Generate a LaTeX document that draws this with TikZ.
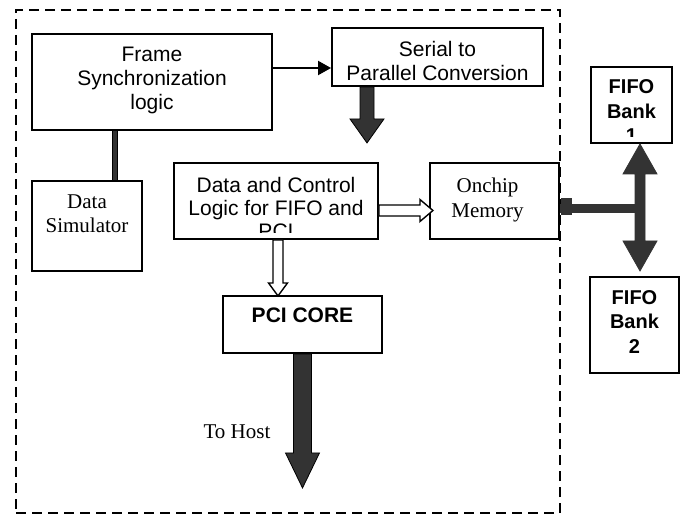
\documentclass[tikz,border=0pt]{standalone}
\usepackage{fontspec}
\setmainfont{Liberation Sans}
\newfontfamily\timesfont{Liberation Serif}
\usetikzlibrary{arrows.meta}

\definecolor{busgray}{HTML}{333333}

% Filled block arrow: style, start point, direction angle, shaft half-width,
% head half-width, total length, head length
\newcommand{\blockarrow}[7]{%
  \draw[#1, shift={(#2)}, rotate=#3]
    (0,-#4) -- ({#6-#7},-#4) -- ({#6-#7},-#5) -- (#6,0)
    -- ({#6-#7},#5) -- ({#6-#7},#4) -- (0,#4) -- cycle;}

\begin{document}
\begin{tikzpicture}[x=1pt,y=-1pt,
  box/.style={draw, line width=1.9pt, inner sep=0pt, fill=white},
  txt/.style={align=center, inner sep=0pt, font=\fontsize{21}{24}\selectfont},
  serif/.style={align=center, inner sep=0pt, font=\timesfont\fontsize{21}{23.5}\selectfont},
  boldtxt/.style={align=center, inner sep=0pt, font=\bfseries\fontsize{20}{24.5}\selectfont},
  fat/.style={fill=busgray, draw=black, line width=0.8pt, line join=miter},
  hollow/.style={fill=white, draw=black, line width=1.4pt, line join=miter},
]
\useasboundingbox (0,0) rectangle (680,516);

% board outline
\node[draw, line width=2.6pt, dash pattern=on 10pt off 6pt, minimum width=544pt,
      minimum height=503pt, inner sep=0pt] (board) at (288,261.5) {};

% blocks
\node[box, minimum width=240pt, minimum height=96pt] (frame)  at (152,82) {};
\node[box, minimum width=211pt, minimum height=58pt] (serial) at (437.5,57) {};
\node[box, minimum width=110pt, minimum height=90pt] (dsim)   at (87,226) {};
\node[box, minimum width=204pt, minimum height=76pt] (dcl)    at (276,201) {};
\node[box, minimum width=129pt, minimum height=76pt] (mem)    at (494.5,201) {};
\node[box, minimum width=159pt, minimum height=57pt] (pci)    at (302.5,324.5) {};
\node[box, minimum width=81pt,  minimum height=76pt] (fifoA)  at (631.5,105) {};
\node[box, minimum width=89pt,  minimum height=96pt] (fifoB)  at (634.5,325) {};

% block labels
\node[txt] (frameT) at ([yshift=2pt]frame.center) {Frame\\Synchronization\\logic};
\node[txt] (serialT) at ([yshift=-3.5pt]serial.center) {Serial to\\Parallel Conversion};
\node[serif] (dsimT) at ([yshift=12.5pt]dsim.center) {Data\\Simulator};
\begin{scope}
  \clip ([xshift=1pt,yshift=-1pt]dcl.north west) rectangle ([xshift=-1pt,yshift=7pt]dcl.south east);
  \node[txt, font=\fontsize{21}{23}\selectfont] (dclT) at ([yshift=-7pt]dcl.center)
    {Data and Control\\Logic for FIFO and\\PCI};
\end{scope}
\node[serif, font=\timesfont\fontsize{21}{25}\selectfont] (memT) at ([xshift=-7pt,yshift=1.5pt]mem.center) {Onchip\\Memory};
\node[txt, font=\bfseries\fontsize{21}{24}\selectfont] (pciT) at ([yshift=9.5pt]pci.center) {PCI CORE};
\begin{scope}
  \clip ([xshift=1pt,yshift=-1pt]fifoA.north west) rectangle ([xshift=-1pt,yshift=7pt]fifoA.south east);
  \node[boldtxt] (fifoAT) at ([yshift=-6.5pt]fifoA.center) {FIFO\\Bank\\1};
\end{scope}
\node[boldtxt] (fifoBT) at ([yshift=3pt]fifoB.center) {FIFO\\Bank\\2};

% control arrow: frame sync -> serial/parallel
\coordinate (fs) at ([yshift=14pt]frame.east);
\draw[line width=2pt, -{Triangle[length=13pt,width=14pt]}] (fs) -- (fs -| serial.west);

% data simulator link
\coordinate (simx) at (115,0);
\draw[line width=6pt, black] (frame.south -| simx) -- (dsim.north -| simx);
\draw[line width=3.6pt, busgray] (frame.south -| simx) -- (dsim.north -| simx);

% serial/parallel -> data and control
\coordinate (spx) at (367,0);
\blockarrow{fat}{serial.south -| spx}{-90}{7}{17}{56}{24}

% data and control -> onchip memory
\coordinate (dmy) at (0,210.5);
\blockarrow{hollow}{dcl.east |- dmy}{0}{5.5}{11}{54}{13}

% data and control -> PCI core
\coordinate (dpx) at (278,0);
\blockarrow{hollow}{dcl.south -| dpx}{-90}{5}{9.5}{56}{13}

% PCI core -> host
\blockarrow{fat}{pci.south}{-90}{9}{17}{134}{35}
\node[serif] (host) at (237,432) {To Host};

% onchip memory <-> FIFO banks
\coordinate (busv) at (640,0);
\coordinate (memport) at ([yshift=-7pt]mem.east);
\draw[line width=9pt, busgray] (memport) -- (memport -| busv);
\fill[busgray] ([xshift=1pt,yshift=10pt]memport) rectangle ([xshift=12pt,yshift=-7pt]memport);
\coordinate (vtop) at (fifoA.south -| busv);
\draw[fat, draw=busgray, shift={(vtop)}]
  (0,0) -- (17,30) -- (5,30) -- (5,97) -- (17,97) -- (0,127)
  -- (-17,97) -- (-5,97) -- (-5,30) -- (-17,30) -- cycle;
\end{tikzpicture}
\end{document}
